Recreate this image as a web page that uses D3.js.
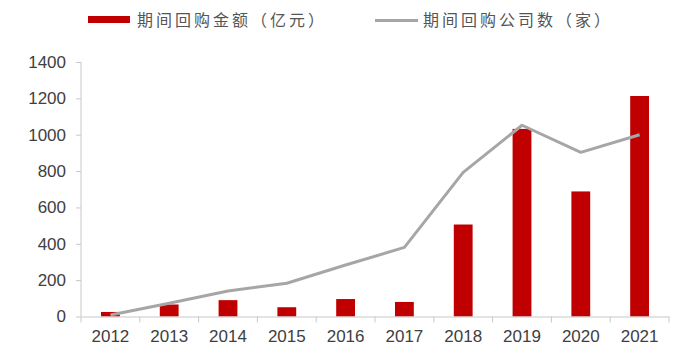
<!DOCTYPE html>
<html><head><meta charset="utf-8">
<script src="https://cdn.jsdelivr.net/npm/d3@7"></script>
<style>body{margin:0;background:#fff}svg{display:block}</style>
</head><body>
<svg id="chart" width="700" height="363"></svg>
<script>
const years = ["2012","2013","2014","2015","2016","2017","2018","2019","2020","2021"];
const amounts = [25, 66, 90, 51, 96, 80, 506, 1032, 688, 1213];
const companies = [8, 73, 140, 183, 283, 380, 793, 1052, 903, 1000];
const yTicks = [0, 200, 400, 600, 800, 1000, 1200, 1400];
const legendLabels = ["期间回购金额（亿元）", "期间回购公司数（家）"];

const svg = d3.select("#chart");
const mLeft = 81, mRight = 669, mTop = 62, mBottom = 316.5;
const barColor = "#c00000", lineColor = "#a6a6a6", axisColor = "#c8c8c8", textColor = "#404040";

const x = d3.scaleBand().domain(years).range([mLeft, mRight]).paddingInner(0.68).paddingOuter(0.34);
const xb = d3.scaleBand().domain(years).range([mLeft, mRight]).padding(0);
const y = d3.scaleLinear().domain([0, 1400]).range([mBottom, mTop]);

// bars
svg.append("g").selectAll("rect").data(years).join("rect")
  .attr("x", d => x(d)).attr("width", x.bandwidth())
  .attr("y", (d,i) => y(amounts[i])).attr("height", (d,i) => y(0) - y(amounts[i]))
  .attr("fill", barColor);

// line
const line = d3.line().x((d,i) => xb(years[i]) + xb.bandwidth()/2).y(d => y(d));
svg.append("path").datum(companies).attr("d", line)
  .attr("fill", "none").attr("stroke", lineColor).attr("stroke-width", 3).attr("stroke-linejoin", "round");

// y axis
const yAxis = svg.append("g").attr("transform", `translate(${mLeft},0)`)
  .call(d3.axisLeft(y).tickValues(yTicks).tickSize(5).tickPadding(10).tickFormat(d3.format("d")));
yAxis.select(".domain").attr("stroke", axisColor).attr("d", `M0,${mTop}V${mBottom}`);
yAxis.selectAll(".tick line").attr("stroke", axisColor);
yAxis.selectAll("text").attr("fill", textColor).style("font-family", "Liberation Sans, Arial, sans-serif").style("font-size", "17px");

// x axis
const xAxis = svg.append("g").attr("transform", `translate(0,${mBottom})`)
  .call(d3.axisBottom(xb).tickSize(0).tickPadding(13));
xAxis.select(".domain").attr("stroke", axisColor);
xAxis.selectAll("text").attr("fill", textColor).style("font-family", "Liberation Sans, Arial, sans-serif").style("font-size", "17px");
const bounds = years.map(d => xb(d)).concat([xb.range()[1]]);
xAxis.selectAll(".bound").data(bounds).join("line").attr("class","bound")
  .attr("x1", d => d).attr("x2", d => d).attr("y1", 0).attr("y2", 6).attr("stroke", axisColor);

// legend
const lg = svg.append("g");
lg.append("rect").attr("x", 88).attr("y", 16).attr("width", 42).attr("height", 7).attr("fill", barColor);
lg.append("text").attr("x", 137).attr("y", 26).text(legendLabels[0]);
lg.append("line").attr("x1", 375).attr("x2", 418).attr("y1", 20.5).attr("y2", 20.5).attr("stroke", lineColor).attr("stroke-width", 3);
lg.append("text").attr("x", 423).attr("y", 26).text(legendLabels[1]);
lg.selectAll("text").attr("fill", "#555").style("font-family", "Noto Sans CJK SC, sans-serif").style("font-size", "16px").style("letter-spacing", "3px");
</script>
</body></html>
